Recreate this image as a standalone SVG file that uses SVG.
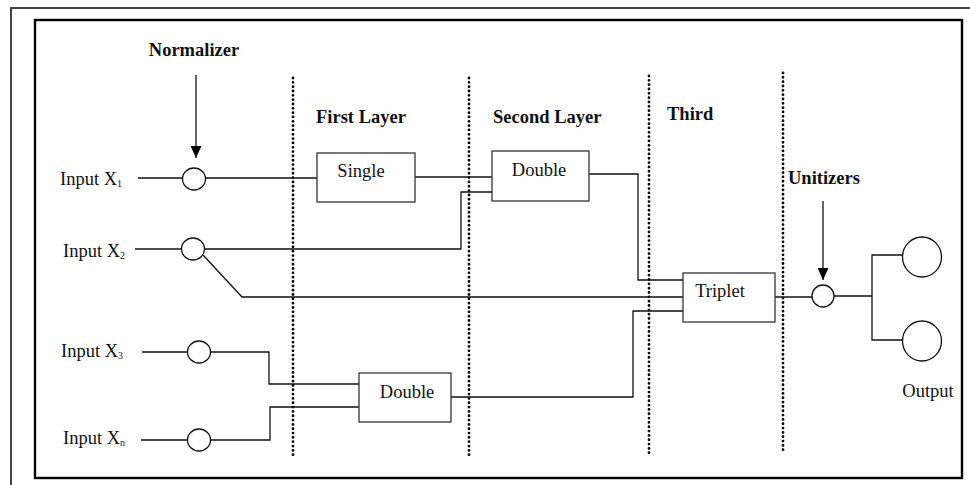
<svg xmlns="http://www.w3.org/2000/svg" width="970" height="485" viewBox="0 0 970 485">
<defs>
<style>
.t{font-family:"Liberation Serif","Times New Roman",serif;font-size:18.5px;fill:#111}
.b{font-weight:bold}
.sub{font-size:10px}
.ln{fill:none;stroke:#111;stroke-width:1.3}
.bx{fill:#fff;stroke:#333;stroke-width:1.3}
.nc{fill:#fff;stroke:#111;stroke-width:1.3}
.dot{fill:none;stroke:#000;stroke-width:2.8;stroke-linecap:round;stroke-dasharray:0 4.33}
</style>
<marker id="ah" viewBox="0 0 12 11" refX="12" refY="5.5" markerWidth="12" markerHeight="11" markerUnits="userSpaceOnUse" orient="auto">
<path d="M0,0 L12,5.5 L0,11 Z" fill="#000"/>
</marker>
</defs>
<rect width="970" height="485" fill="#fff"/>
<g id="frame">
<path d="M11,485 V8 H970" fill="none" stroke="#444" stroke-width="2"/>
<rect x="35" y="20" width="927" height="458" fill="none" stroke="#000" stroke-width="2.4"/>
</g>
<g id="dividers">
<line class="dot" x1="293" y1="78" x2="293" y2="459"/>
<line class="dot" x1="469" y1="78" x2="469" y2="459"/>
<line class="dot" x1="649" y1="76" x2="649" y2="457"/>
<line class="dot" x1="783" y1="73" x2="783" y2="453"/>
</g>
<g id="labels">
<text class="t b" x="194" y="56" text-anchor="middle">Normalizer</text>
<text class="t b" x="316" y="123">First Layer</text>
<text class="t b" x="493" y="123">Second Layer</text>
<text class="t b" x="667" y="120">Third</text>
<text class="t b" x="788" y="184">Unitizers</text>
</g>
<g id="connectors">
<line class="ln" x1="196" y1="75" x2="196" y2="158" marker-end="url(#ah)"/>
<line class="ln" x1="823" y1="201" x2="823" y2="280" marker-end="url(#ah)"/>
<path class="ln" d="M138,178 H182"/>
<path class="ln" d="M206,178 H317"/>
<path class="ln" d="M415,177 H492"/>
<path class="ln" d="M135,249 H182"/>
<path class="ln" d="M204,249 H461 V192 H492"/>
<path class="ln" d="M203,255 L242,297 H683"/>
<path class="ln" d="M589,174 H638 V280 H683"/>
<path class="ln" d="M142,352 H188"/>
<path class="ln" d="M210,352 H269 V384 H359"/>
<path class="ln" d="M141,440 H188"/>
<path class="ln" d="M210,440 H270 V407 H359"/>
<path class="ln" d="M451,397 H633 V311 H683"/>
<path class="ln" d="M775,297 H812"/>
<path class="ln" d="M834,296 H872"/>
<path class="ln" d="M902,255 H872 V340 H902"/>
</g>
<g id="input-x1">
<text class="t" x="60" y="185">Input X<tspan class="sub" dy="2">1</tspan></text>
<ellipse class="nc" cx="194" cy="179" rx="11.5" ry="11"/>
</g>
<g id="input-x2">
<text class="t" x="63" y="257">Input X<tspan class="sub" dy="2">2</tspan></text>
<ellipse class="nc" cx="193" cy="249" rx="11.5" ry="11"/>
</g>
<g id="input-x3">
<text class="t" x="61" y="357">Input X<tspan class="sub" dy="2">3</tspan></text>
<ellipse class="nc" cx="199" cy="352" rx="11.5" ry="11"/>
</g>
<g id="input-xn">
<text class="t" x="63" y="444">Input X<tspan class="sub" dy="2">n</tspan></text>
<ellipse class="nc" cx="199" cy="440" rx="11.5" ry="11"/>
</g>
<g id="single">
<rect class="bx" x="317" y="153" width="98" height="49"/>
<text class="t" x="361" y="177" text-anchor="middle">Single</text>
</g>
<g id="double-2">
<rect class="bx" x="492" y="151" width="97" height="50"/>
<text class="t" x="539" y="176" text-anchor="middle">Double</text>
</g>
<g id="double-1">
<rect class="bx" x="359" y="373" width="92" height="49"/>
<text class="t" x="407" y="398" text-anchor="middle">Double</text>
</g>
<g id="triplet">
<rect class="bx" x="683" y="273" width="92" height="49"/>
<text class="t" x="720" y="297" text-anchor="middle">Triplet</text>
</g>
<g id="unitizer">
<ellipse class="nc" cx="823" cy="296" rx="11" ry="11"/>
</g>
<g id="output">
<ellipse class="nc" cx="922" cy="257" rx="19.5" ry="20"/>
<ellipse class="nc" cx="922" cy="341" rx="19.5" ry="20"/>
<text class="t" x="928" y="397" text-anchor="middle">Output</text>
</g>
</svg>
